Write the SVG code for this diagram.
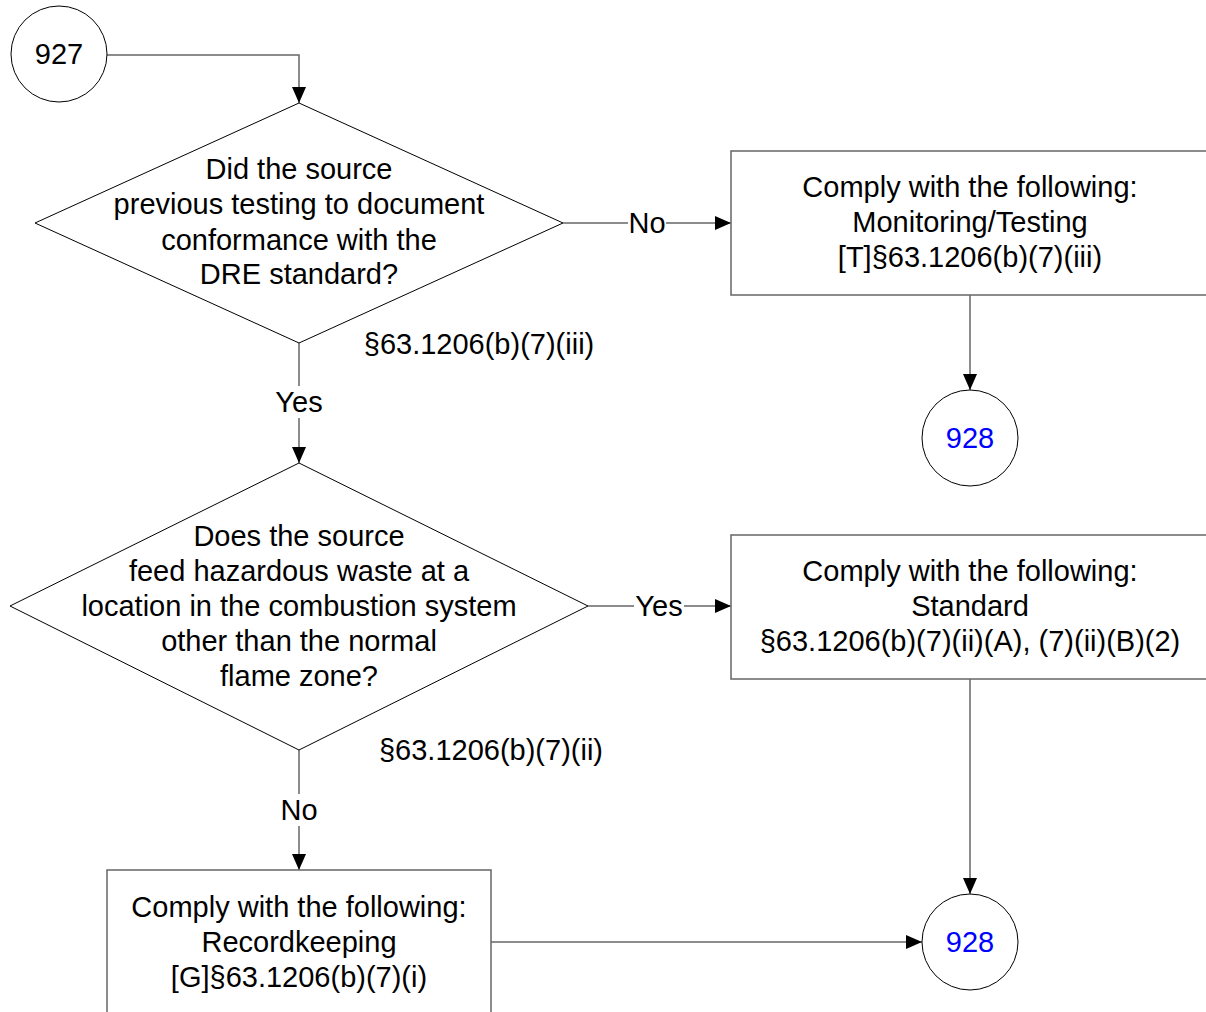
<svg xmlns="http://www.w3.org/2000/svg" width="1206" height="1012" viewBox="0 0 1206 1012">
<style>
text{font-family:"Liberation Sans",Arial,sans-serif;font-size:29px;fill:#000;text-anchor:middle}
.blue{fill:#0000ff}
.shape{fill:#fff;stroke:#000;stroke-width:1}
.box{fill:#fff;stroke:#666;stroke-width:1.5}
.conn{fill:none;stroke:#666;stroke-width:1.5}
.lbg{fill:#fff;stroke:none}
</style>
<defs>
<marker id="arr" viewBox="0 0 10 10" refX="10" refY="5" markerWidth="10" markerHeight="10" markerUnits="userSpaceOnUse" orient="auto"><path d="M0,0 L10,5 L0,10 z" fill="#000"/></marker>
<marker id="arrL" viewBox="0 0 16 14" refX="16" refY="7" markerWidth="16" markerHeight="14" markerUnits="userSpaceOnUse" orient="auto"><path d="M0,0 L16,7 L0,14 z" fill="#000"/></marker>
</defs>
<g id="connectors">
<path class="conn" d="M107,55 H299 V103" marker-end="url(#arrL)"/>
<path class="conn" d="M563,223 H731" marker-end="url(#arrL)"/>
<path class="conn" d="M970,295 V390" marker-end="url(#arrL)"/>
<path class="conn" d="M299,343 V463" marker-end="url(#arrL)"/>
<path class="conn" d="M588,606 H731" marker-end="url(#arrL)"/>
<path class="conn" d="M970,679 V894" marker-end="url(#arrL)"/>
<path class="conn" d="M299,750 V870" marker-end="url(#arrL)"/>
<path class="conn" d="M491,942 H922" marker-end="url(#arrL)"/>
<rect class="lbg" x="628" y="208" width="38" height="30"/>
<text x="647" y="233">No</text>
<rect class="lbg" x="634" y="591" width="50" height="30"/>
<text x="659" y="616">Yes</text>
<rect class="lbg" x="272" y="386" width="54" height="32"/>
<text x="299" y="412">Yes</text>
<rect class="lbg" x="280" y="794" width="38" height="32"/>
<text x="299" y="820">No</text>
<text x="479" y="354">§63.1206(b)(7)(iii)</text>
<text x="491" y="760">§63.1206(b)(7)(ii)</text>
</g>
<g id="n927">
<circle class="shape" cx="59" cy="54" r="48"/>
<text x="59" y="64">927</text>
</g>
<g id="d1">
<polygon class="shape" points="299,103 563,223 299,343 35,223"/>
<text x="299" y="179">Did the source</text>
<text x="299" y="214">previous testing to document</text>
<text x="299" y="250">conformance with the</text>
<text x="299" y="284">DRE standard?</text>
</g>
<g id="b1">
<rect class="box" x="731" y="151" width="480" height="144"/>
<text x="970" y="197">Comply with the following:</text>
<text x="970" y="232">Monitoring/Testing</text>
<text x="970" y="267">[T]§63.1206(b)(7)(iii)</text>
</g>
<g id="c928a">
<circle class="shape" cx="970" cy="438" r="48"/>
<text class="blue" x="970" y="448">928</text>
</g>
<g id="d2">
<polygon class="shape" points="299,463 588,606 299,750 10,606"/>
<text x="299" y="546">Does the source</text>
<text x="299" y="581">feed hazardous waste at a</text>
<text x="299" y="616">location in the combustion system</text>
<text x="299" y="651">other than the normal</text>
<text x="299" y="686">flame zone?</text>
</g>
<g id="b2">
<rect class="box" x="731" y="535" width="480" height="144"/>
<text x="970" y="581">Comply with the following:</text>
<text x="970" y="616">Standard</text>
<text x="970" y="651">§63.1206(b)(7)(ii)(A), (7)(ii)(B)(2)</text>
</g>
<g id="b3">
<rect class="box" x="107" y="870" width="384" height="160"/>
<text x="299" y="917">Comply with the following:</text>
<text x="299" y="952">Recordkeeping</text>
<text x="299" y="987">[G]§63.1206(b)(7)(i)</text>
</g>
<g id="c928b">
<circle class="shape" cx="970" cy="942" r="48"/>
<text class="blue" x="970" y="952">928</text>
</g>
</svg>
